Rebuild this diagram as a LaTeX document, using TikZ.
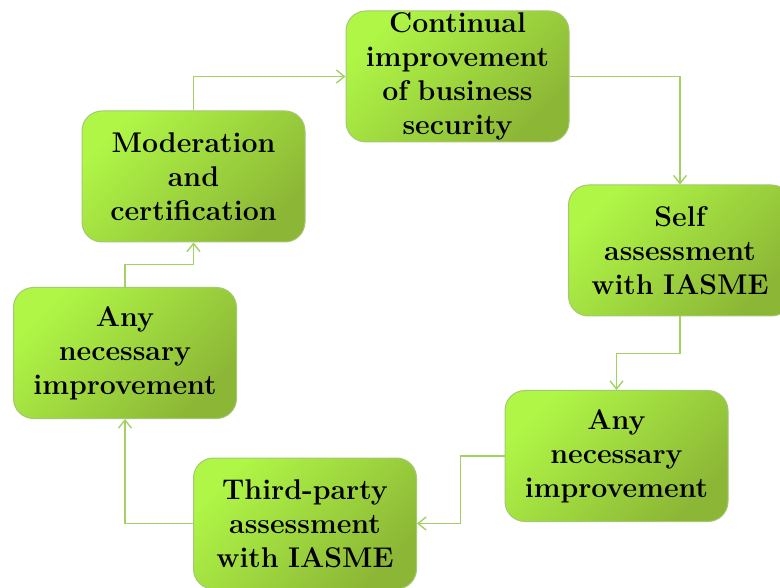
\documentclass[tikz,border=0pt]{standalone}
\usepackage{xcolor}
\usepackage{tikz}
\usetikzlibrary{positioning,calc,arrows.meta}

\definecolor{limelight}{HTML}{AFF646}
\definecolor{limemid}{HTML}{A8EE3E}
\definecolor{limedark}{HTML}{8CB636}
\definecolor{limeedge}{HTML}{A3C873}
\definecolor{flowgreen}{HTML}{A4D064}

\begin{document}
\begin{tikzpicture}[x=1pt, y=-1pt,
    stage/.style={draw=limeedge, line width=1pt, rounded corners=20pt,
        top color=limelight, middle color=limemid, bottom color=limedark, shading angle=45,
        minimum width=223pt, minimum height=131pt, text width=217pt,
        inner xsep=3pt, inner ysep=0pt, align=center,
        font=\bfseries\fontsize{28.5}{34}\selectfont},
    flow/.style={draw=flowgreen, line width=1.4pt,
        -{Straight Barb[length=8pt,width=13pt,line width=1.4pt]}}]
    \clip (0,0) rectangle (780,588);
    \useasboundingbox (0,0) rectangle (780,588);

    % Stages
    \node[stage] (cont) at (457.5,76.5) {Continual\\improvement\\of business\\security};
    \node[stage] (self) at (680,250.5) {Self\\assessment\\with IASME};
    \node[stage] (anyR) at (616.5,456) {Any\\necessary\\improvement};
    \node[stage] (third) at (305,523.5) {Third-party\\assessment\\with IASME};
    \node[stage] (anyL) at (125,353) {Any\\necessary\\improvement};
    \node[stage] (moder) at (193.5,176.5) {Moderation\\and\\certification};

    % Cycle
    \draw[flow] (moder.north) |- (cont.west);
    \draw[flow] (cont.east) -| (self.north);
    \draw[flow] (self.south) |- ($(self.south)!.5!(anyR.north)$) -| (anyR.north);
    \draw[flow] (anyR.west) -| ($(anyR.west)!.5!(third.east)$) |- (third.east);
    \draw[flow] (third.west) -| (anyL.south);
    \draw[flow] (anyL.north) |- ($(anyL.north)!.5!(moder.south)$) -| (moder.south);
\end{tikzpicture}
\end{document}
